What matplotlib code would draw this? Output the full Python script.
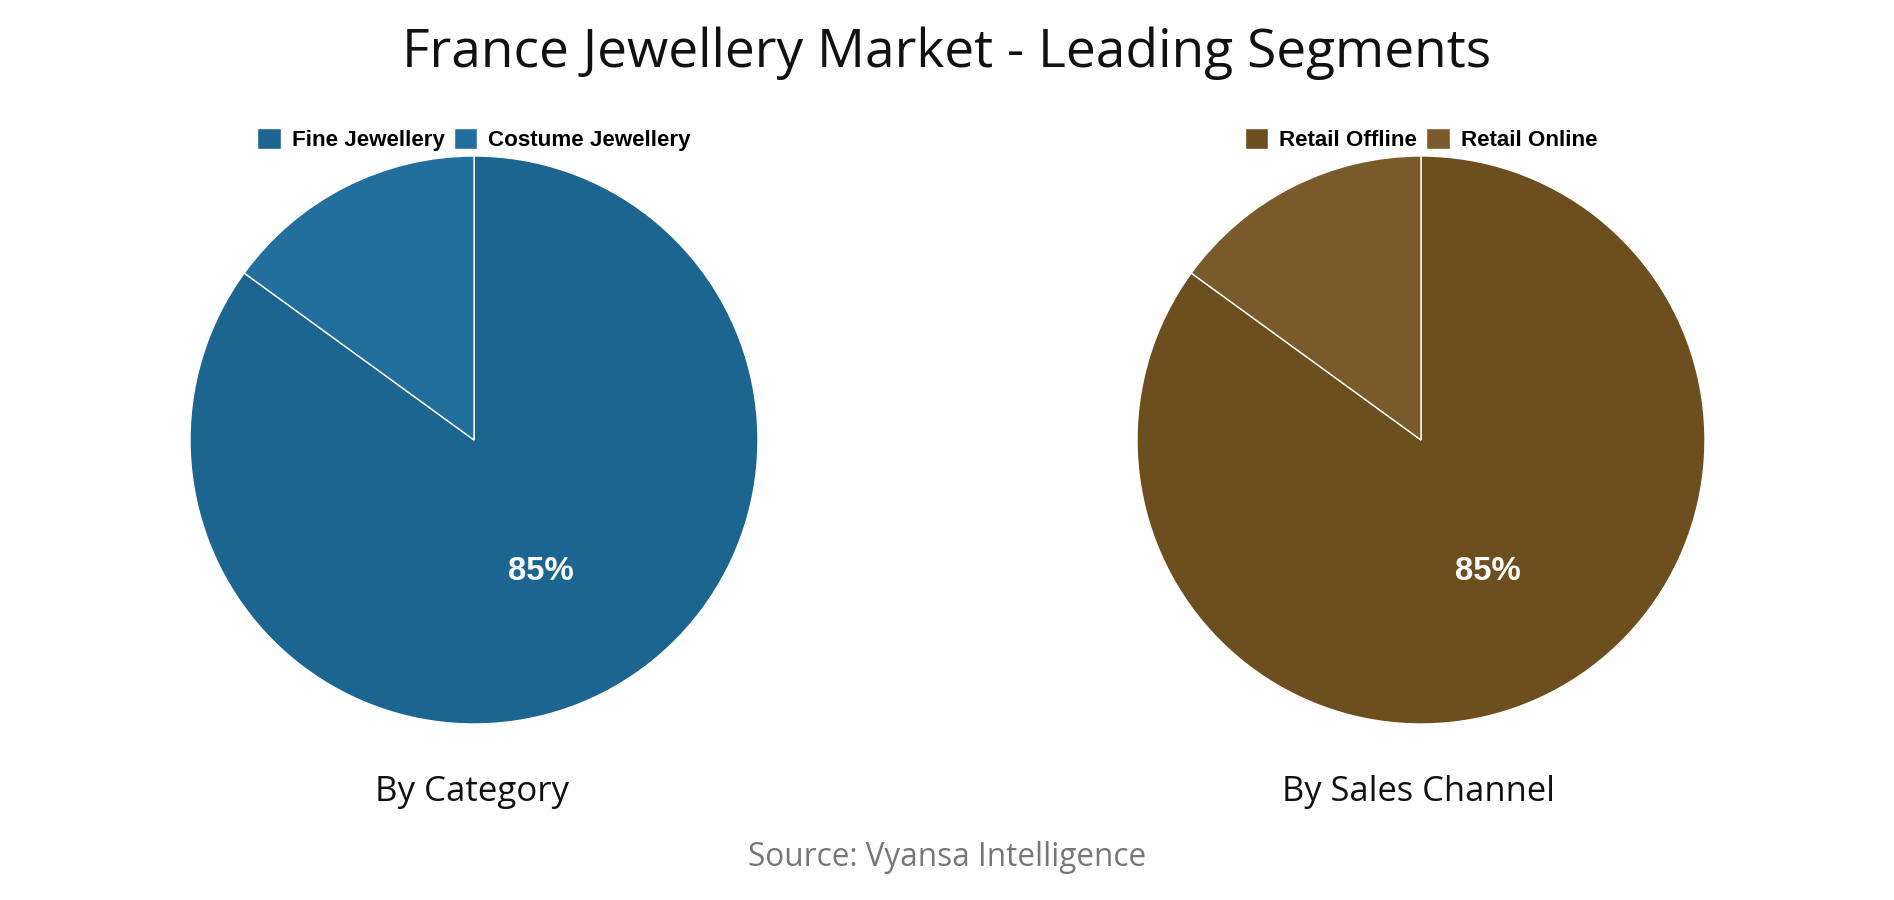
import matplotlib
matplotlib.use("Agg")
import matplotlib.pyplot as plt

W, H, DPI = 1894, 900, 100

title = "France Jewellery Market - Leading Segments"
source = "Source: Vyansa Intelligence"

cat_labels = ["Fine Jewellery", "Costume Jewellery"]
cat_values = [85, 15]
cat_colors = ["#1B6590", "#226F9D"]
cat_title = "By Category"

ch_labels = ["Retail Offline", "Retail Online"]
ch_values = [85, 15]
ch_colors = ["#6D4E1E", "#7A5A2A"]
ch_title = "By Sales Channel"

fig = plt.figure(figsize=(W / DPI, H / DPI), dpi=DPI)
fig.patch.set_facecolor("white")
renderer = fig.canvas.get_renderer()

HEAD_FONT = ["Open Sans", "DejaVu Sans"]
LEG_FONT = ["Liberation Sans", "DejaVu Sans"]


def fit_text(x, y, s, target_w, size0, **kw):
    t = fig.text(x / W, 1 - y / H, s, ha="center", va="center", fontsize=size0, **kw)
    w = t.get_window_extent(renderer).width
    t.set_fontsize(size0 * target_w / w)
    return t


def fit_size(s, target_w, size0, **kw):
    t = fig.text(0, 0, s, fontsize=size0, **kw)
    w = t.get_window_extent(renderer).width
    t.remove()
    return size0 * target_w / w


fit_text(947, 53, title, 1088, 30, family=HEAD_FONT, color="#111111")
fit_text(947, 857, source, 398, 18, family=HEAD_FONT, color="#777777")

leg_size = fit_size("Fine Jewellery", 153, 16, family=LEG_FONT, weight="bold")
pct_size = fit_size("85%", 66, 24, family=LEG_FONT, weight="bold")

R = 284
CY = 440
panels = [
    (474, cat_labels, cat_values, cat_colors, cat_title, 194),
    (1421, ch_labels, ch_values, ch_colors, ch_title, 272),
]

for cx, labels, values, colors, sub, sub_w in panels:
    ax = fig.add_axes([(cx - R) / W, (H - CY - R) / H, 2 * R / W, 2 * R / H])
    wedges, texts, autotexts = ax.pie(
        values,
        colors=colors,
        startangle=90,
        counterclock=False,
        radius=1,
        autopct=lambda p: f"{p:.0f}%" if p > 50 else "",
        pctdistance=0.52,
        wedgeprops=dict(edgecolor="white", linewidth=1),
        textprops=dict(color="white", fontsize=pct_size, weight="bold", family=LEG_FONT),
    )
    ax.set_xlim(-1, 1)
    ax.set_ylim(-1, 1)
    ax.set_aspect("equal")
    ax.axis("off")

    fig.legend(
        wedges,
        labels,
        loc="center",
        bbox_to_anchor=(cx / W, 1 - 139.5 / H),
        ncol=2,
        frameon=False,
        handlelength=1.05,
        handleheight=1.05,
        handletextpad=0.5,
        columnspacing=0.4,
        borderpad=0,
        prop=dict(family=LEG_FONT, weight="bold", size=leg_size),
    )

    fit_text(cx - 2, 792, sub, sub_w, 20, family=HEAD_FONT, color="#111111")

fig.savefig("out.png", dpi=DPI, facecolor="white")
